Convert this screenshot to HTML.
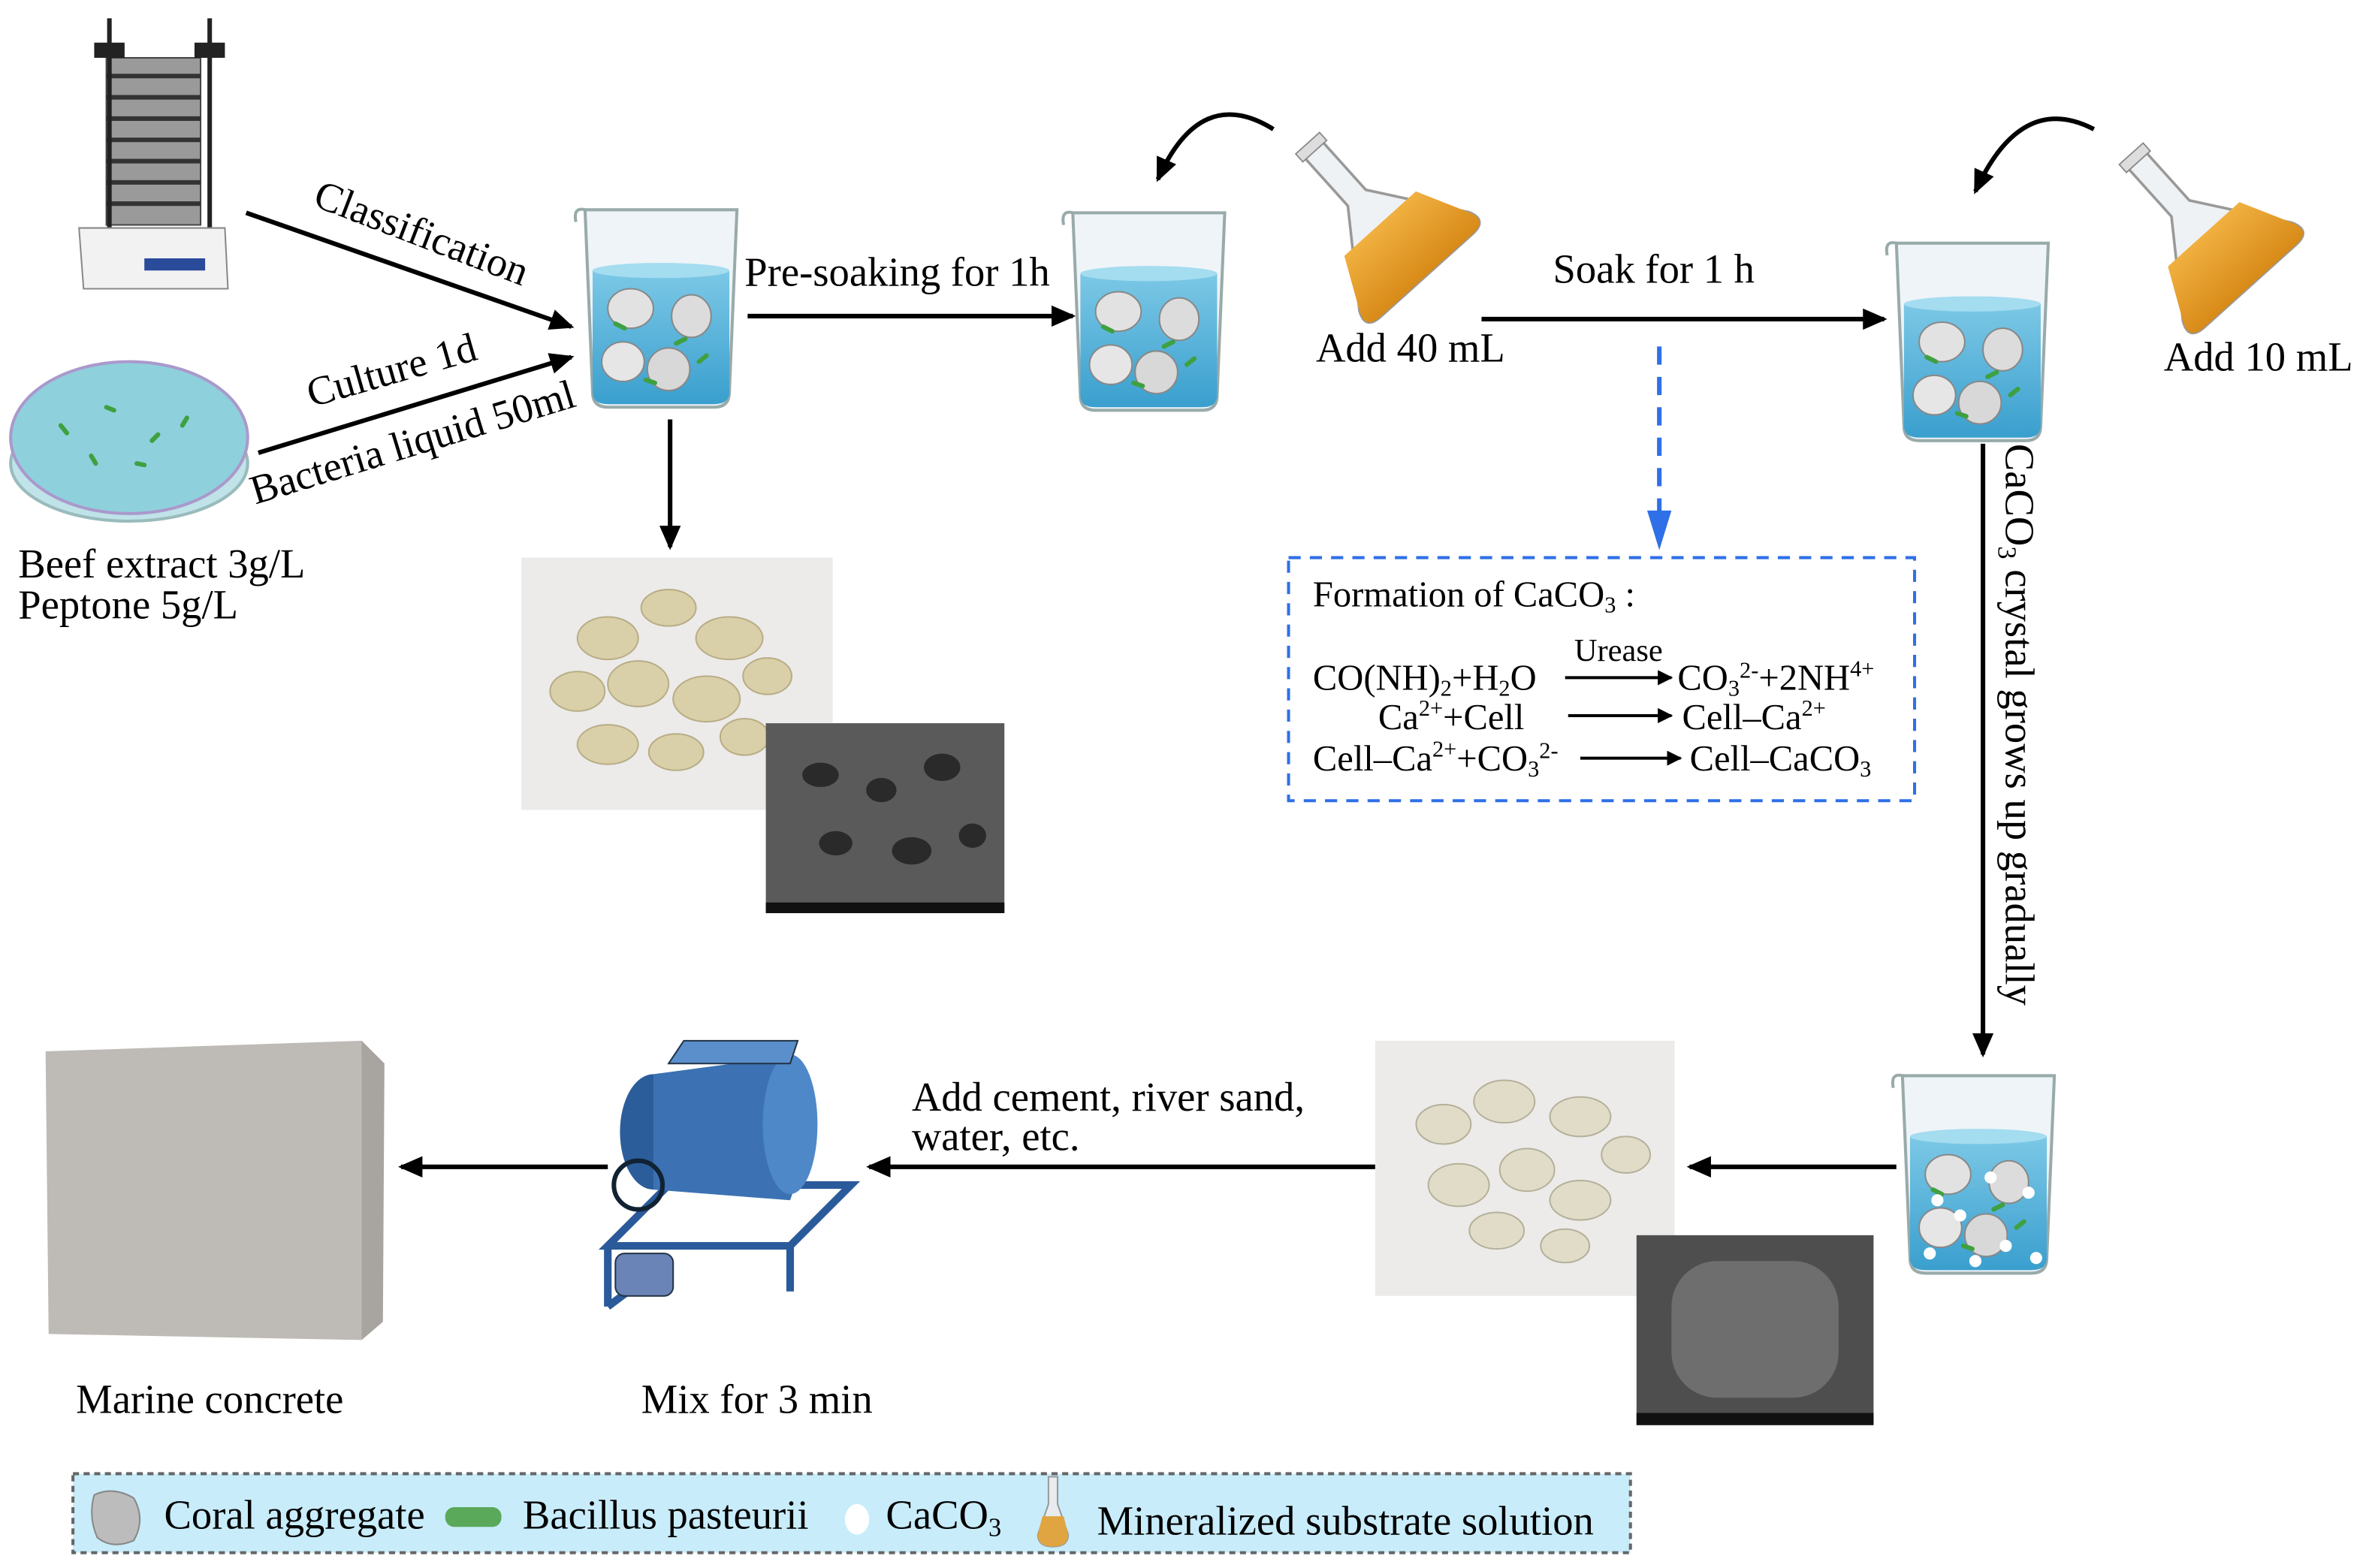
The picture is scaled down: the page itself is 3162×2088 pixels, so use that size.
<!DOCTYPE html>
<html><head><meta charset="utf-8"><style>html,body{margin:0;padding:0;background:#fff}svg{display:block}</style></head>
<body>
<svg width="3162" height="2088" viewBox="0 0 1563 1032" xmlns="http://www.w3.org/2000/svg" font-family="'Liberation Serif', serif" font-size="27">
<defs>
<marker id="ah" markerWidth="10" markerHeight="10" refX="9" refY="5" orient="auto" markerUnits="userSpaceOnUse" viewBox="0 0 10 10"><path d="M0,0 L10,5 L0,10 z" fill="#000"/></marker>
<marker id="ahs" markerWidth="16" markerHeight="14" refX="14" refY="7" orient="auto" markerUnits="userSpaceOnUse"><path d="M0,0 L16,7 L0,14 z" fill="#000"/></marker>
<linearGradient id="wat" x1="0" y1="0" x2="0" y2="1"><stop offset="0" stop-color="#7cc8e6"/><stop offset="1" stop-color="#3a9fce"/></linearGradient>
<linearGradient id="orng" x1="0" y1="0" x2="0" y2="1"><stop offset="0" stop-color="#f0b040"/><stop offset="1" stop-color="#d88a18"/></linearGradient>
<g id="beaker">
<path d="M0,0 L100,0 L95,120 Q95,130 85,130 L15,130 Q5,130 5,120 Z" fill="#eef4f8" stroke="#9aa" stroke-width="2"/>
<path d="M5,40 L95,40 L95,120 Q95,128 85,128 L15,128 Q5,128 5,120 Z" fill="url(#wat)"/>
<ellipse cx="50" cy="40" rx="45" ry="5" fill="#a4dcf0"/>
<path d="M0,0 Q-8,-2 -6,8" fill="none" stroke="#9aa" stroke-width="2"/>
</g>
<g id="rocks">
<ellipse cx="30" cy="65" rx="15" ry="13" fill="#e2e2e2" stroke="#888"/>
<ellipse cx="70" cy="70" rx="13" ry="14" fill="#dcdcdc" stroke="#888"/>
<ellipse cx="25" cy="100" rx="14" ry="13" fill="#e6e6e6" stroke="#888"/>
<ellipse cx="55" cy="105" rx="14" ry="14" fill="#d8d8d8" stroke="#888"/>
<g stroke="#3fa040" stroke-width="3" stroke-linecap="round"><line x1="20" y1="75" x2="26" y2="78"/><line x1="60" y1="88" x2="66" y2="85"/><line x1="40" y1="112" x2="46" y2="114"/><line x1="75" y1="100" x2="80" y2="96"/></g>
</g>
<g id="flask">
<path d="M-9,-60 L9,-60 L9,-12 L55,52 Q62,66 46,66 L-46,66 Q-62,66 -55,52 L-9,-12 Z" fill="#eef2f4" stroke="#999" stroke-width="2"/>
<path d="M-36,14 L36,14 L55,52 Q62,66 46,66 L-46,66 Q-62,66 -55,52 Z" fill="url(#orng)"/>
<rect x="-12" y="-67" width="24" height="8" fill="#ddd" stroke="#888"/>
</g>
</defs>

<!-- sieve shaker -->
<g>
<rect x="70" y="38" width="62" height="110" fill="#9a9a9a" stroke="#444"/>
<g stroke="#333" stroke-width="3"><line x1="70" y1="50" x2="132" y2="50"/><line x1="70" y1="64" x2="132" y2="64"/><line x1="70" y1="78" x2="132" y2="78"/><line x1="70" y1="92" x2="132" y2="92"/><line x1="70" y1="106" x2="132" y2="106"/><line x1="70" y1="120" x2="132" y2="120"/><line x1="70" y1="134" x2="132" y2="134"/></g>
<line x1="72" y1="12" x2="72" y2="150" stroke="#222" stroke-width="3"/><line x1="138" y1="12" x2="138" y2="150" stroke="#222" stroke-width="3"/>
<rect x="62" y="28" width="20" height="10" fill="#222"/><rect x="128" y="28" width="20" height="10" fill="#222"/>
<path d="M52,150 L148,150 L150,190 L55,190 Z" fill="#f2f2f2" stroke="#888"/>
<rect x="95" y="170" width="40" height="8" fill="#2a4a9a"/>
</g>
<!-- petri -->
<ellipse cx="85" cy="305" rx="78" ry="38" fill="#bfe3e8" stroke="#9bb" stroke-width="2"/>
<ellipse cx="85" cy="288" rx="78" ry="50" fill="#8fd0dd" stroke="#a9c" stroke-width="2"/>
<g stroke="#3fa040" stroke-width="3" stroke-linecap="round"><line x1="40" y1="280" x2="44" y2="285"/><line x1="70" y1="268" x2="75" y2="270"/><line x1="100" y1="290" x2="104" y2="286"/><line x1="60" y1="300" x2="63" y2="305"/><line x1="120" y1="280" x2="123" y2="275"/><line x1="90" y1="305" x2="95" y2="306"/></g>
<text x="12" y="380">Beef extract 3g/L</text>
<text x="12" y="407">Peptone 5g/L</text>

<!-- arrows to beaker1 -->
<line x1="162" y1="140" x2="376" y2="215" stroke="#000" stroke-width="3" marker-end="url(#ahs)"/>
<line x1="170" y1="298" x2="376" y2="235" stroke="#000" stroke-width="3" marker-end="url(#ahs)"/>
<text x="205" y="135" transform="rotate(21 205 135)">Classification</text>
<text x="205" y="268" transform="rotate(-16 205 268)">Culture 1d</text>
<text x="168" y="332" transform="rotate(-17 168 332)">Bacteria liquid 50ml</text>

<!-- beaker1 -->
<use href="#beaker" x="385" y="138"/><use href="#rocks" x="385" y="138"/>
<line x1="441" y1="276" x2="441" y2="360" stroke="#000" stroke-width="3" marker-end="url(#ahs)"/>
<line x1="492" y1="208" x2="706" y2="208" stroke="#000" stroke-width="3" marker-end="url(#ahs)"/>
<text x="490" y="188">Pre-soaking for 1h</text>
<use href="#beaker" x="706" y="140"/><use href="#rocks" x="706" y="140"/>

<!-- photo 1 -->
<rect x="343" y="367" width="205" height="166" fill="#ecebea"/>
<g fill="#d9cfa8" stroke="#b8ad86">
<ellipse cx="400" cy="420" rx="20" ry="14"/><ellipse cx="440" cy="400" rx="18" ry="12"/><ellipse cx="480" cy="420" rx="22" ry="14"/><ellipse cx="380" cy="455" rx="18" ry="13"/><ellipse cx="420" cy="450" rx="20" ry="15"/><ellipse cx="465" cy="460" rx="22" ry="15"/><ellipse cx="505" cy="445" rx="16" ry="12"/><ellipse cx="400" cy="490" rx="20" ry="13"/><ellipse cx="445" cy="495" rx="18" ry="12"/><ellipse cx="490" cy="485" rx="16" ry="12"/></g>
<rect x="504" y="476" width="157" height="125" fill="#5a5a5a"/>
<g fill="#2a2a2a"><ellipse cx="540" cy="510" rx="12" ry="8"/><ellipse cx="580" cy="520" rx="10" ry="8"/><ellipse cx="620" cy="505" rx="12" ry="9"/><ellipse cx="550" cy="555" rx="11" ry="8"/><ellipse cx="600" cy="560" rx="13" ry="9"/><ellipse cx="640" cy="550" rx="9" ry="8"/></g>
<rect x="504" y="594" width="157" height="7" fill="#111"/>

<!-- flask 1 -->
<g transform="translate(900,138) rotate(-42) scale(0.88)"><use href="#flask"/></g>
<path d="M838,85 Q790,55 762,118" fill="none" stroke="#000" stroke-width="3" marker-end="url(#ahs)"/>
<text x="866" y="238">Add 40 mL</text>
<line x1="975" y1="210" x2="1240" y2="210" stroke="#000" stroke-width="3" marker-end="url(#ahs)"/>
<text x="1022" y="186">Soak for 1 h</text>
<line x1="1092" y1="228" x2="1092" y2="340" stroke="#2f6fe8" stroke-width="3" stroke-dasharray="12,8"/>
<path d="M1084,336 L1100,336 L1092,362 Z" fill="#2f6fe8"/>

<!-- formation box -->
<rect x="848" y="367" width="412" height="160" fill="none" stroke="#2f6fe8" stroke-width="2" stroke-dasharray="8,6"/>
<g font-size="24">
<text x="864" y="399">Formation  of CaCO<tspan font-size="15" dy="4">3</tspan><tspan dy="-4"> :</tspan></text>
<text x="1036" y="435" font-size="21">Urease</text>
<text x="864" y="454">CO(NH)<tspan font-size="15" dy="4">2</tspan><tspan dy="-4">+H</tspan><tspan font-size="15" dy="4">2</tspan><tspan dy="-4">O</tspan></text>
<line x1="1030" y1="446" x2="1100" y2="446" stroke="#000" stroke-width="2" marker-end="url(#ah)"/>
<text x="1104" y="454">CO<tspan font-size="15" dy="4">3</tspan><tspan font-size="15" dy="-12">2-</tspan><tspan dy="8">+2NH</tspan><tspan font-size="15" dy="-9">4+</tspan></text>
<text x="907" y="480">Ca<tspan font-size="15" dy="-9">2+</tspan><tspan dy="9">+Cell</tspan></text>
<line x1="1032" y1="471" x2="1100" y2="471" stroke="#000" stroke-width="2" marker-end="url(#ah)"/>
<text x="1107" y="480">Cell–Ca<tspan font-size="15" dy="-9">2+</tspan></text>
<text x="864" y="507">Cell–Ca<tspan font-size="15" dy="-9">2+</tspan><tspan dy="9">+CO</tspan><tspan font-size="15" dy="4">3</tspan><tspan font-size="15" dy="-12">2-</tspan></text>
<line x1="1040" y1="499" x2="1106" y2="499" stroke="#000" stroke-width="2" marker-end="url(#ah)"/>
<text x="1112" y="507">Cell–CaCO<tspan font-size="15" dy="4">3</tspan></text>
</g>

<!-- beaker 3 -->
<use href="#beaker" x="1248" y="160"/><use href="#rocks" x="1248" y="160"/>
<g transform="translate(1442,145) rotate(-42) scale(0.88)"><use href="#flask"/></g>
<path d="M1378,85 Q1330,60 1300,126" fill="none" stroke="#000" stroke-width="3" marker-end="url(#ahs)"/>
<text x="1424" y="244">Add 10 mL</text>
<line x1="1305" y1="292" x2="1305" y2="694" stroke="#000" stroke-width="3" marker-end="url(#ahs)"/>
<text x="1320" y="292" transform="rotate(90 1320 292)">CaCO<tspan font-size="17" dy="5">3</tspan><tspan dy="-5"> crystal grows up gradually</tspan></text>

<!-- beaker 4 -->
<use href="#beaker" x="1252" y="708"/><use href="#rocks" x="1252" y="708"/>
<g fill="#fff"><circle cx="1275" cy="790" r="4"/><circle cx="1290" cy="800" r="4"/><circle cx="1320" cy="820" r="4"/><circle cx="1335" cy="785" r="4"/><circle cx="1270" cy="825" r="4"/><circle cx="1300" cy="830" r="4"/><circle cx="1340" cy="828" r="4"/><circle cx="1310" cy="775" r="4"/></g>
<line x1="1248" y1="768" x2="1112" y2="768" stroke="#000" stroke-width="3" marker-end="url(#ahs)"/>

<!-- photo 2 -->
<rect x="905" y="685" width="197" height="168" fill="#ecebe9"/>
<g fill="#e0dcc8" stroke="#b5b09a">
<ellipse cx="950" cy="740" rx="18" ry="13"/><ellipse cx="990" cy="725" rx="20" ry="14"/><ellipse cx="1040" cy="735" rx="20" ry="13"/><ellipse cx="1070" cy="760" rx="16" ry="12"/><ellipse cx="960" cy="780" rx="20" ry="14"/><ellipse cx="1005" cy="770" rx="18" ry="14"/><ellipse cx="1040" cy="790" rx="20" ry="13"/><ellipse cx="985" cy="810" rx="18" ry="12"/><ellipse cx="1030" cy="820" rx="16" ry="11"/></g>
<rect x="1077" y="813" width="156" height="125" fill="#4e4e4e"/>
<rect x="1100" y="830" width="110" height="90" fill="#6e6e6e" rx="30"/>
<rect x="1077" y="930" width="156" height="8" fill="#111"/>

<line x1="905" y1="768" x2="572" y2="768" stroke="#000" stroke-width="3" marker-end="url(#ahs)"/>
<text x="600" y="731">Add cement,  river sand,</text>
<text x="600" y="757">water, etc.</text>

<!-- mixer -->
<g>
<path d="M400,820 L440,780 L560,780 L520,820 Z" fill="none" stroke="#2a5a9a" stroke-width="5"/>
<line x1="400" y1="820" x2="400" y2="860" stroke="#2a5a9a" stroke-width="5"/>
<line x1="520" y1="820" x2="520" y2="850" stroke="#2a5a9a" stroke-width="5"/>
<line x1="400" y1="860" x2="440" y2="830" stroke="#2a5a9a" stroke-width="5"/>
<ellipse cx="430" cy="745" rx="22" ry="38" fill="#2b5d9b"/>
<path d="M430,707 L520,695 Q545,720 520,790 L430,783 Z" fill="#3c72b3"/>
<ellipse cx="520" cy="740" rx="18" ry="46" fill="#4f88c8"/>
<path d="M440,700 L450,685 L525,685 L520,700 Z" fill="#5a8fcc" stroke="#234"/>
<circle cx="420" cy="780" r="16" fill="none" stroke="#123" stroke-width="3"/>
<rect x="405" y="825" width="38" height="28" rx="6" fill="#6a84b8" stroke="#234"/>
</g>
<line x1="400" y1="768" x2="264" y2="768" stroke="#000" stroke-width="3" marker-end="url(#ahs)"/>

<!-- concrete cube -->
<path d="M30,692 L238,685 L253,700 L238,882 L32,878 Z" fill="#bebbb6"/>
<path d="M238,685 L253,700 L252,870 L238,882 Z" fill="#a8a5a0"/>

<text x="50" y="930">Marine concrete</text>
<text x="422" y="930">Mix  for 3 min</text>

<!-- legend -->
<rect x="48" y="970" width="1025" height="52" fill="#c8ecfa" stroke="#666" stroke-width="2" stroke-dasharray="4,3"/>
<path d="M62,984 Q74,978 88,986 Q96,1000 88,1014 Q74,1020 64,1012 Q58,998 62,984 Z" fill="#bcbcbc" stroke="#888"/>
<text x="108" y="1006">Coral aggregate</text>
<rect x="293" y="992" width="37" height="13" rx="6" fill="#5aa85a"/>
<text x="344" y="1006">Bacillus pasteurii</text>
<ellipse cx="564" cy="1000" rx="8" ry="10" fill="#fff"/>
<text x="583" y="1006">CaCO<tspan font-size="17" dy="5">3</tspan></text>
<path d="M690,972 L696,972 L696,990 L703,1010 Q703,1018 693,1018 Q683,1018 683,1010 L690,990 Z" fill="#e8ecee" stroke="#999"/>
<path d="M686,998 L700,998 L703,1010 Q703,1018 693,1018 Q683,1018 683,1010 Z" fill="#e0a540"/>
<text x="722" y="1010">Mineralized substrate solution</text>
</svg>
</body></html>
